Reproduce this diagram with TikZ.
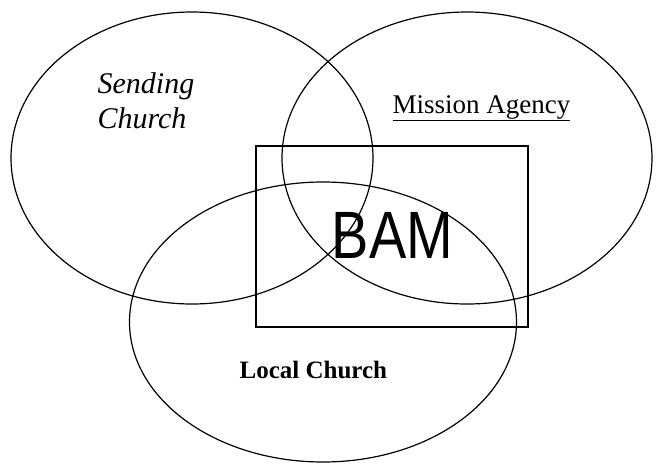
\documentclass[tikz,border=0pt]{standalone}
\usepackage{fontspec}
\setmainfont{Liberation Serif}
\newfontfamily\bamfont{Liberation Sans}
\usepackage{tikz}
\usetikzlibrary{positioning}

\begin{document}
\begin{tikzpicture}[x=1pt,y=-1pt,line width=1.2pt,
        circle set/.style={draw=black},
        set label/.style={inner sep=0pt,anchor=base west,align=left}]
    \useasboundingbox (0,0) rectangle (657,464);
    \draw[circle set] (192,158) ellipse [x radius=181, y radius=146];
    \draw[circle set] (467,158) ellipse [x radius=185, y radius=146];
    \draw[circle set] (323,322) ellipse [x radius=193.5, y radius=140];
    \draw[circle set] (256,146) rectangle (528,327);
    \node[set label, font=\fontsize{30}{35}\selectfont\itshape] (sending) at (97,128) {Sending\\Church};
    \node[set label, font=\fontsize{27}{32}\selectfont] (agency) at (392,113) {\underline{Mission Agency}};
    \node[set label, font=\fontsize{25}{30}\selectfont\bfseries] (local) at (239,378) {Local Church};
    \node[inner sep=0pt,anchor=base,font=\fontsize{67}{70}\selectfont\bamfont] (bam) at (392.5,258) {\scalebox{0.835}[1]{BAM}};
\end{tikzpicture}
\end{document}
